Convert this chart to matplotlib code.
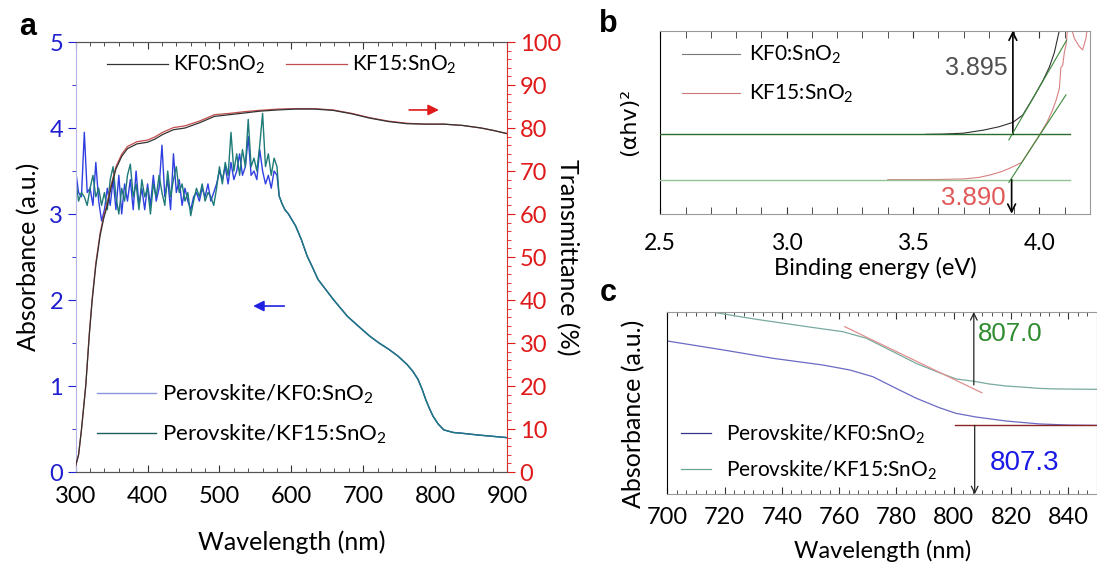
import matplotlib
matplotlib.use("Agg")
import matplotlib.pyplot as plt
from matplotlib.ticker import MultipleLocator, AutoMinorLocator, NullLocator
from matplotlib.font_manager import FontProperties

plt.rcParams['font.family'] = ['Lato', 'DejaVu Sans']
plt.rcParams['mathtext.fontset'] = 'custom'
plt.rcParams['mathtext.rm'] = 'Lato'
plt.rcParams['mathtext.it'] = 'Lato:italic'

# ---- panel a: absorbance (left axis) ----
abs_wl = list(range(300, 581, 4)) + [583, 587, 591, 596, 601, 606, 614, 622, 630, 637, 648, 658,
                                     668, 678, 694, 709, 722, 735, 748, 761, 769, 776, 782, 787,
                                     792, 797, 804, 812, 825, 838, 860, 880, 900]
abs_tail = [3.21, 3.12, 3.05, 3.00, 2.93, 2.86, 2.70, 2.51, 2.37, 2.24, 2.12, 2.01,
            1.91, 1.81, 1.69, 1.58, 1.50, 1.43, 1.35, 1.25, 1.17, 1.08, 0.96, 0.84,
            0.74, 0.65, 0.56, 0.49, 0.46, 0.45, 0.43, 0.415, 0.40]
abs_kf0 = [3.50, 3.25, 3.20, 3.95, 3.25, 3.30, 3.10, 3.60, 3.15, 2.92, 3.05, 3.30,
           3.10, 3.40, 3.05, 3.45, 3.00, 3.35, 3.15, 3.40, 3.05, 3.50, 3.10, 3.30,
           3.05, 3.35, 3.10, 3.45, 3.15, 3.30, 3.80, 3.20, 3.40, 3.05, 3.70, 3.25,
           3.40, 3.10, 3.30, 3.15, 3.05, 3.20, 3.25, 3.15, 3.30, 3.20, 3.35, 3.15,
           3.25, 3.35, 3.50, 3.40, 3.55, 3.35, 3.60, 3.40, 3.50, 3.70, 3.45, 3.55,
           3.90, 3.45, 3.50, 3.40, 3.75, 3.50, 3.35, 3.45, 3.30, 3.50, 3.45] + abs_tail
abs_kf15 = [3.40, 3.15, 3.25, 3.20, 3.10, 3.30, 3.45, 3.20, 3.30, 3.10, 3.25, 3.05,
            3.40, 3.55, 3.20, 3.00, 3.30, 3.15, 3.45, 3.58, 3.20, 3.35, 3.05, 3.40,
            3.20, 3.30, 3.00, 3.35, 3.20, 3.45, 3.25, 3.10, 3.50, 3.20, 3.40, 3.55,
            3.25, 3.35, 3.15, 3.25, 2.98, 3.15, 3.30, 3.20, 3.35, 3.15, 3.25, 3.20,
            3.10, 3.30, 3.55, 3.35, 3.60, 3.45, 3.95, 3.50, 3.70, 3.45, 3.75, 3.55,
            4.10, 3.55, 3.65, 3.50, 3.80, 4.17, 3.55, 3.70, 3.45, 3.65, 3.55] + abs_tail

# ---- panel a: transmittance (right axis) ----
t_wl = [300, 304, 308, 314, 319, 323, 328, 334, 339, 344, 349, 356, 364, 372, 385, 400,
        410, 421, 436, 452, 472, 493, 514, 535, 555, 581, 605, 632, 658, 684, 709, 735,
        761, 787, 812, 838, 864, 882, 900]
t_kf0 = [1.5, 4.0, 9.8, 20.0, 32.0, 40.0, 48.0, 55.0, 59.0, 62.0, 66.0, 70.5, 73.4, 75.2,
         76.3, 76.7, 77.4, 78.5, 79.6, 80.0, 81.2, 82.7, 83.1, 83.5, 83.9, 84.2, 84.4, 84.4,
         84.1, 83.3, 82.3, 81.5, 81.0, 80.9, 80.9, 80.6, 80.0, 79.4, 78.7]
t_kf15 = [1.5, 4.0, 9.8, 20.2, 32.4, 40.5, 48.6, 55.6, 59.6, 62.6, 66.6, 71.0, 73.9, 75.7,
          76.8, 77.2, 77.9, 79.0, 80.1, 80.5, 81.6, 83.1, 83.4, 83.8, 84.1, 84.4, 84.5, 84.5,
          84.2, 83.4, 82.4, 81.6, 81.1, 80.9, 80.9, 80.6, 80.0, 79.4, 78.7]

# ---- panel b: Tauc plot ----
b_e_kf0 = [3.55, 3.62, 3.70, 3.78, 3.84, 3.895, 3.934, 3.974, 4.013, 4.039, 4.059, 4.072, 4.082]
b_kf0 = [0.4335, 0.435, 0.440, 0.457, 0.475, 0.499, 0.539, 0.630, 0.725, 0.800, 0.880, 0.960, 1.02]
b_e_kf15 = [3.40, 3.50, 3.60, 3.70, 3.76, 3.803, 3.85, 3.882, 3.93, 3.96, 4.00, 4.03, 4.05,
            4.066, 4.079, 4.085, 4.092, 4.099, 4.105, 4.112, 4.125, 4.138, 4.158, 4.171,
            4.184, 4.19]
b_kf15 = [0.186, 0.186, 0.187, 0.190, 0.198, 0.211, 0.230, 0.248, 0.280, 0.345, 0.430, 0.500,
          0.560, 0.620, 0.685, 0.800, 0.810, 0.885, 0.920, 1.02, 1.02, 0.958, 0.913, 0.895,
          0.958, 1.02]
b_base_e = [2.5, 4.122]
b_base_kf0 = 0.4335
b_base_kf15 = 0.186
b_tan_kf0 = ([3.879, 4.108], [0.403, 0.949])
b_tan_kf15 = ([3.879, 4.105], [0.171, 0.649])
b_gap_kf0 = 3.895
b_gap_kf15 = 3.890

# ---- panel c: absorption edge ----
c_wl_kf15 = [715.5, 731.1, 748.6, 761.3, 769.5, 777.6, 786.9, 795.0, 800.8, 807.0, 812.5,
             818.3, 824.1, 829.9, 835.7, 850.0]
c_kf15 = [1.0, 0.960, 0.920, 0.892, 0.856, 0.792, 0.718, 0.667, 0.633, 0.620, 0.605,
          0.594, 0.588, 0.581, 0.578, 0.576]
c_wl_kf0 = [700.0, 719.5, 736.9, 754.4, 763.7, 771.8, 779.9, 786.9, 795.0, 800.8, 807.8,
            818.3, 829.9, 840.0, 850.0]
c_kf0 = [0.841, 0.792, 0.746, 0.709, 0.682, 0.645, 0.581, 0.527, 0.475, 0.444, 0.424,
         0.402, 0.386, 0.380, 0.378]
c_tan = ([761.9, 809.8], [0.920, 0.557])
c_base_wl = [800.6, 850.0]
c_base = 0.378
c_edge_kf15 = 807.0
c_edge_kf0 = 807.3

fig = plt.figure(figsize=(10.97, 5.70), dpi=100)

# ================= panel a =================
blue = '#2f3fe0'
teal = '#1d7a76'
red = '#e01a1a'
ax1 = fig.add_axes([0.069, 0.1719, 0.3932, 0.7544])
ax2 = ax1.twinx()
ax1.plot(abs_wl, abs_kf0, color=blue, lw=1.0, label='Perovskite/KF0:SnO$_\\mathrm{2}$')
ax1.plot(abs_wl, abs_kf15, color=teal, lw=1.0, label='Perovskite/KF15:SnO$_\\mathrm{2}$')
ax2.plot(t_wl, t_kf15, color='#c44c4c', lw=0.9, label='KF15:SnO$_\\mathrm{2}$')
ax2.plot(t_wl, t_kf0, color='#333333', lw=0.9, label='KF0:SnO$_\\mathrm{2}$')

ax1.set_xlim(300, 900)
ax1.set_ylim(0, 5)
ax2.set_ylim(0, 100)
ax1.xaxis.set_major_locator(MultipleLocator(100))
ax1.xaxis.set_minor_locator(MultipleLocator(20))
ax1.yaxis.set_major_locator(MultipleLocator(1))
ax1.yaxis.set_minor_locator(MultipleLocator(0.5))
ax2.yaxis.set_major_locator(MultipleLocator(10))
ax2.yaxis.set_minor_locator(MultipleLocator(2))

ax1.tick_params(axis='x', which='both', direction='in', top=True, color='#333333',
                labelsize=17, pad=10)
ax1.tick_params(axis='x', which='major', length=5)
ax1.tick_params(axis='x', which='minor', length=3)
ax1.tick_params(axis='y', which='both', direction='out', color='#1f1fd0',
                labelcolor='#1f1fd0', labelsize=17, pad=3)
ax1.tick_params(axis='y', which='major', length=6)
ax1.tick_params(axis='y', which='minor', length=3)
ax2.tick_params(axis='y', which='both', direction='out', color=red,
                labelcolor=red, labelsize=17, pad=3)
ax2.tick_params(axis='y', which='major', length=6)
ax2.tick_params(axis='y', which='minor', length=3)

ax1.spines['left'].set_color('#b4b4e6')
ax1.spines['right'].set_visible(False)
ax2.spines['left'].set_visible(False)
ax2.spines['right'].set_color('#d83030')
for ax in (ax1, ax2):
    ax.spines['top'].set_color('#555555')
    ax.spines['bottom'].set_color('#555555')

ax1.set_xlabel('Wavelength (nm)', fontsize=18)
ax1.set_ylabel('Absorbance (a.u.)', fontsize=18)
ax2.set_ylabel('Transmittance (%)', fontsize=18, rotation=270)
ax1.xaxis.set_label_coords(0.5, -0.135)
ax1.yaxis.set_label_coords(-0.083, 0.5)
ax2.yaxis.set_label_coords(1.167, 0.5)

ax2.annotate('', xy=(809, 84.2), xytext=(760, 84.2),
             arrowprops=dict(arrowstyle='-|>', color=red, lw=1.2, mutation_scale=16))
ax1.annotate('', xy=(543, 1.93), xytext=(594, 1.93),
             arrowprops=dict(arrowstyle='-|>', color='#2020e0', lw=1.2, mutation_scale=16))

h2, l2 = ax2.get_legend_handles_labels()
leg_top = ax2.legend([h2[1], h2[0]], [l2[1], l2[0]], ncol=2, frameon=False, fontsize=15,
                     loc='center left', bbox_to_anchor=(0.073, 0.9465), borderpad=0,
                     borderaxespad=0, handlelength=2.9, handletextpad=0.25, columnspacing=1.0)
h1, l1 = ax1.get_legend_handles_labels()
leg_low = ax2.legend(h1, l1, frameon=False, fontsize=16, loc='center left',
                     bbox_to_anchor=(0.049, 0.135), borderpad=0, borderaxespad=0,
                     handlelength=2.65, handletextpad=0.3, labelspacing=0.75)
leg_low.get_lines()[0].set_color('#8a96dc')
leg_low.get_lines()[1].set_color('#1c5e5c')
ax2.add_artist(leg_top)

fig.text(0.025, 0.952, 'a', fontsize=22, fontweight='bold', family='Liberation Sans',
         ha='center', va='center')

# ================= panel b =================
axb = fig.add_axes([0.6019, 0.6251, 0.3917, 0.3211])
axb.plot(b_base_e, [b_base_kf0, b_base_kf0], color='#2d6a2d', lw=1.0, zorder=3)
axb.plot(b_base_e, [b_base_kf15, b_base_kf15], color='#93c493', lw=1.0, zorder=3)
axb.plot(b_e_kf0, b_kf0, color='#303030', lw=0.8, zorder=2, label='KF0:SnO$_\\mathrm{2}$')
axb.plot(b_e_kf15, b_kf15, color='#d88080', lw=0.8, zorder=2, label='KF15:SnO$_\\mathrm{2}$')
axb.plot(b_tan_kf0[0], b_tan_kf0[1], color='#3c8a3c', lw=0.8, zorder=4)
axb.plot(b_tan_kf15[0], b_tan_kf15[1], color='#3c8a3c', lw=0.8, zorder=4)
axb.annotate('', xy=(b_gap_kf0, 1.0), xytext=(b_gap_kf0, b_base_kf0),
             arrowprops=dict(arrowstyle='->', color='black', lw=1.2, mutation_scale=14,
                             shrinkA=0, shrinkB=0))
axb.annotate('', xy=(b_gap_kf15, 0.0), xytext=(b_gap_kf15, b_base_kf15),
             arrowprops=dict(arrowstyle='->', color='black', lw=1.2, mutation_scale=14,
                             shrinkA=0, shrinkB=0))
axb.text(3.876, 0.796, '3.895', color='#505050', fontsize=18, family='Liberation Sans',
         ha='right', va='center')
axb.text(3.868, 0.086, '3.890', color='#e05858', fontsize=18.5, family='Liberation Sans',
         ha='right', va='center')
axb.set_xlim(2.5, 4.2)
axb.set_ylim(0, 1)
axb.xaxis.set_major_locator(MultipleLocator(0.5))
axb.xaxis.set_minor_locator(MultipleLocator(0.1))
axb.xaxis.set_major_formatter(plt.FormatStrFormatter('%.1f'))
axb.yaxis.set_major_locator(NullLocator())
axb.tick_params(axis='x', which='both', direction='in', top=True, length=5,
                color='#333333', labelsize=16.5, pad=14)
for s in ('top', 'bottom', 'right'):
    axb.spines[s].set_color('#999999')
axb.spines['left'].set_color('black')
axb.set_xlabel('Binding energy (eV)', fontsize=17)
axb.set_ylabel('(αhv)²', fontproperties=FontProperties(family='DejaVu Sans', size=16))
axb.xaxis.set_label_coords(0.5, -0.235)
axb.yaxis.set_label_coords(-0.05, 0.5)
legb = axb.legend(frameon=False, fontsize=15, loc='center left', bbox_to_anchor=(0.0505, 0.7607),
                  borderpad=0, borderaxespad=0, handlelength=2.8, handletextpad=0.4,
                  labelspacing=0.8)
legb.get_lines()[0].set_color('#777777')
legb.get_lines()[1].set_color('#c87878')
fig.text(0.5545, 0.958, 'b', fontsize=22, fontweight='bold', family='Liberation Sans',
         ha='center', va='center')

# ================= panel c =================
axc = fig.add_axes([0.6083, 0.1328, 0.3917, 0.3198])
axc.plot(c_wl_kf0, c_kf0, color='#6a6ac4', lw=0.9, label='Perovskite/KF0:SnO$_\\mathrm{2}$')
axc.plot(c_wl_kf15, c_kf15, color='#78aaa0', lw=0.9, label='Perovskite/KF15:SnO$_\\mathrm{2}$')
axc.plot(c_tan[0], c_tan[1], color='#e09090', lw=0.9)
axc.plot(c_base_wl, [c_base, c_base], color='#8b2424', lw=1.0)
axc.annotate('', xy=(c_edge_kf15, 1.0), xytext=(c_edge_kf15, 0.60),
             arrowprops=dict(arrowstyle='->', color='#222222', lw=0.9, mutation_scale=12,
                             shrinkA=0, shrinkB=0))
axc.annotate('', xy=(c_edge_kf0, 0.0), xytext=(c_edge_kf0, c_base),
             arrowprops=dict(arrowstyle='->', color='#222222', lw=0.9, mutation_scale=12,
                             shrinkA=0, shrinkB=0))
axc.text(808.3, 0.879, '807.0', color='#2e8b2e', fontsize=18.5, family='Liberation Sans',
         ha='left', va='center')
axc.text(812.5, 0.172, '807.3', color='#1a1ae6', fontsize=20, family='Liberation Sans',
         ha='left', va='center')
axc.set_xlim(700, 850)
axc.set_ylim(0, 1)
axc.xaxis.set_major_locator(MultipleLocator(20))
axc.xaxis.set_minor_locator(AutoMinorLocator(6))
axc.yaxis.set_major_locator(NullLocator())
axc.tick_params(axis='x', which='both', direction='in', top=True, color='#333333',
                labelsize=17, pad=9)
axc.tick_params(axis='x', which='major', length=5)
axc.tick_params(axis='x', which='minor', length=3)
for s in ('top', 'bottom', 'right'):
    axc.spines[s].set_color('#999999')
axc.spines['left'].set_color('black')
axc.set_xlabel('Wavelength (nm)', fontsize=17)
axc.set_ylabel('Absorbance (a.u.)', fontsize=18)
axc.xaxis.set_label_coords(0.5, -0.25)
axc.yaxis.set_label_coords(-0.052, 0.443)
legc = axc.legend(frameon=False, fontsize=15, loc='center left', bbox_to_anchor=(0.032, 0.232),
                  borderpad=0, borderaxespad=0, handlelength=1.45, handletextpad=0.7,
                  labelspacing=0.6)
legc.get_lines()[0].set_color('#33338f')
legc.get_lines()[1].set_color('#6aa494')
fig.text(0.5545, 0.486, 'c', fontsize=22, fontweight='bold', family='Liberation Sans',
         ha='center', va='center')

fig.savefig('out.png', dpi=100)
